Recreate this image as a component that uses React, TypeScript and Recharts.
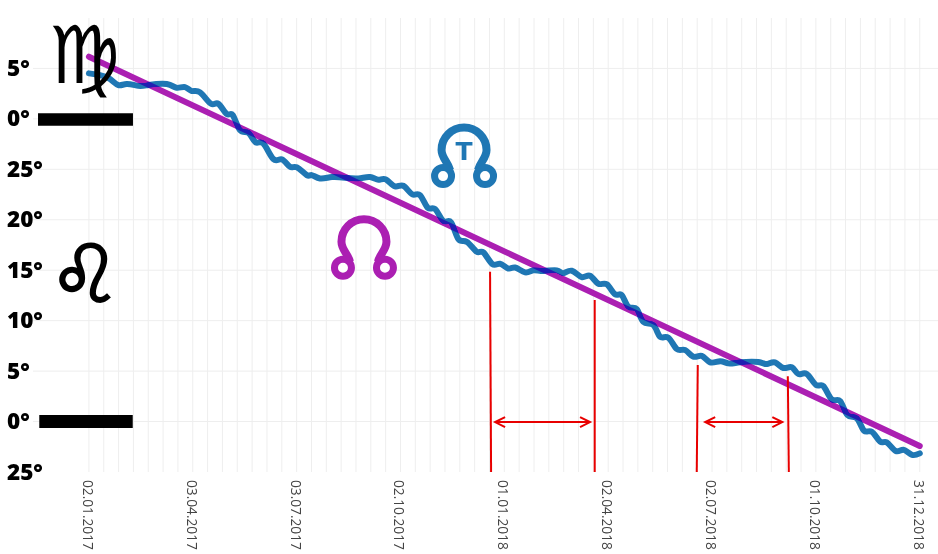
import React from "react";
import {
  LineChart,
  Line,
  XAxis,
  YAxis,
  CartesianGrid,
  ReferenceLine,
  ReferenceDot,
} from "recharts";

// days since 02.01.2017, one grid line every 13 days
const gridDays = Array.from({ length: 57 }, (_, i) => i * 13);
const dateLabels = [
  "02.01.2017",
  "03.04.2017",
  "03.07.2017",
  "02.10.2017",
  "01.01.2018",
  "02.04.2018",
  "02.07.2018",
  "01.10.2018",
  "31.12.2018",
];

// longitude as a running number, 120 = 0 Leo, 150 = 0 Virgo
const degreeTicks = [115, 120, 125, 130, 135, 140, 145, 150, 155];
const degreeLabels = ["25°", "0°", "5°", "10°", "15°", "20°", "25°", "0°", "5°"];

const dayDomain = [-49, 744];
const degreeDomain = [115, 160];

const trueNodeDays = [
  0, 9.7, 18.5, 25.8, 33.1, 43.3, 52.1, 68.2, 76.9, 84.2, 90.1, 97.4, 107, 113.4, 120.8, 126,
  132.4, 139.7, 146.2, 152.8, 161.6, 169, 176.2, 182.1, 190.9, 195.2, 202.5, 212.8, 224.4, 236.1,
  246.3, 253.6, 260.1, 268.2, 275.5, 283.4, 290.1, 296.9, 303.3, 310.6, 317.3, 323.7, 331.1, 339.8,
  345.6, 353.5, 360.2, 367.5, 373.4, 382.2, 389.4, 398.2, 409.9, 415.7, 423.1, 431.8, 439.1, 446.4,
  453.8, 461, 466.9, 472.7, 480, 485.8, 494.6, 500.4, 507.7, 515.1, 522.4, 529.6, 537, 544.3, 553,
  560.3, 570.6, 586.6, 594, 601.2, 608.5, 615.9, 621.7, 629, 637.2, 643.6, 650.9, 658.2, 664.6,
  672.8, 679.2, 686, 693.3, 699.1, 707, 713.7, 721, 728,
];
const trueNodeValues = [
  154.51, 154.34, 153.95, 153.35, 153.45, 153.28, 153.35, 153.45, 153.08, 153.15, 152.76, 152.63,
  151.5, 151.5, 150.48, 150.38, 148.89, 148.62, 147.67, 147.57, 146.02, 145.99, 145.25, 145.2,
  144.43, 144.43, 144.1, 144.23, 144.17, 144.1, 144.23, 143.97, 144.0, 143.31, 143.37, 142.52,
  142.45, 141.19, 141.06, 139.87, 139.75, 138.09, 137.82, 136.83, 136.77, 135.61, 135.65, 135.17,
  135.27, 134.79, 134.99, 134.92, 134.99, 134.69, 134.95, 134.32, 134.45, 133.66, 133.6, 132.61,
  132.54, 131.38, 131.15, 129.89, 129.57, 128.41, 128.31, 127.19, 127.09, 126.43, 126.5, 125.87,
  125.98, 125.77, 125.87, 125.9, 125.7, 125.87, 125.31, 125.38, 124.71, 124.71, 123.62, 123.52,
  122.2, 122.04, 120.65, 120.32, 119.09, 118.99, 118.0, 117.94, 117.08, 117.21, 116.71, 116.85,
];
const meanNodeDays = [0, 728];
const meanNodeValues = [156.16, 117.58];

const trueNodeData = trueNodeDays.map((day, i) => ({ day, value: trueNodeValues[i] }));
const meanNodeData = meanNodeDays.map((day, i) => ({ day, value: meanNodeValues[i] }));

const BLUE = "#1f77b4";
const PURPLE = "#ab1fb2";
const RED = "#e80000";

const DateTick = (props: any) => {
  const { x, y, payload } = props;
  if (payload.value % 91 !== 0) return null;
  const label = dateLabels[payload.value / 91];
  return (
    <text
      transform={`translate(${x - 6},${y}) rotate(90)`}
      fontFamily="Open Sans"
      fontSize={13.7}
      fill="#444"
    >
      {label}
    </text>
  );
};

const DegreeTick = (props: any) => {
  const { y, payload } = props;
  return (
    <text x={7} y={y + 7.5} fontFamily="Open Sans" fontWeight={800} fontSize={22.5} fill="#000">
      {degreeLabels[degreeTicks.indexOf(payload.value)]}
    </text>
  );
};

// the omega with two little rings, drawn around its own centre
const NodeGlyph = ({ cx, cy, color, letter }: any) => (
  <g>
    <path
      d={`M${cx - 14} ${cy - 6} C${cx - 16} ${cy - 14} ${cx - 22.5} ${cy - 18} ${cx - 22.5} ${cy - 26}
        A22.5 22.5 0 0 1 ${cx + 22.5} ${cy - 26}
        C${cx + 22.5} ${cy - 18} ${cx + 16} ${cy - 14} ${cx + 14} ${cy - 6}`}
      fill="none"
      stroke={color}
      strokeWidth={8}
    />
    <circle cx={cx - 21} cy={cy} r={8.5} fill="#fff" stroke={color} strokeWidth={7} />
    <circle cx={cx + 21} cy={cy} r={8.5} fill="#fff" stroke={color} strokeWidth={7} />
    {letter ? (
      <text
        x={cx}
        y={cy - 16}
        textAnchor="middle"
        fontFamily="DejaVu Sans"
        fontWeight={700}
        fontSize={25}
        fill={color}
      >
        {letter}
      </text>
    ) : null}
  </g>
);

const SignGlyph = ({ cx, cy, sign, size, weight }: any) => (
  <text
    x={cx}
    y={cy}
    textAnchor="middle"
    fontFamily="DejaVu Sans"
    fontSize={size}
    fill="#000"
    stroke="#000"
    strokeWidth={weight}
  >
    {sign}
  </text>
);

// double headed arrow, open heads
const Arrow = ({ x1, y1, x2, y2 }: any) => (
  <g fill="none" stroke={RED} strokeWidth={2}>
    <line x1={x1} y1={y1} x2={x2} y2={y2} />
    <polyline points={`${x1 + 10},${y1 - 5} ${x1},${y1} ${x1 + 10},${y1 + 5}`} />
    <polyline points={`${x2 - 10},${y2 - 5} ${x2},${y2} ${x2 - 10},${y2 + 5}`} />
  </g>
);

const App = () => {
  return (
    <div style={{ position: "absolute", left: 0, top: 0, width: 938, height: 554, background: "#fff" }}>
      <LineChart
        width={938}
        height={554}
        margin={{ top: 18, right: 0, left: 0, bottom: 0 }}
      >
        <CartesianGrid
          stroke="#eeeeee"
          strokeWidth={1}
          horizontalCoordinatesGenerator={({ offset }: any) =>
            degreeTicks
              .slice(1)
              .map(
                (t) =>
                  offset.top +
                  ((degreeDomain[1] - t) / (degreeDomain[1] - degreeDomain[0])) * offset.height
              )
          }
          verticalCoordinatesGenerator={({ offset }: any) =>
            gridDays.map(
              (d) =>
                offset.left + ((d - dayDomain[0]) / (dayDomain[1] - dayDomain[0])) * offset.width
            )
          }
        />
        <XAxis
          type="number"
          dataKey="day"
          domain={dayDomain}
          ticks={gridDays}
          interval={0}
          height={82}
          axisLine={false}
          tickLine={false}
          tick={<DateTick />}
          allowDataOverflow
        />
        <YAxis
          type="number"
          domain={degreeDomain}
          ticks={degreeTicks}
          interval={0}
          width={33}
          axisLine={false}
          tickLine={false}
          tick={<DegreeTick />}
          allowDataOverflow
        />

        <Line
          data={trueNodeData}
          dataKey="value"
          type="natural"
          stroke={BLUE}
          strokeWidth={6}
          strokeLinecap="round"
          dot={false}
          isAnimationActive={false}
        />
        <Line
          data={meanNodeData}
          dataKey="value"
          type="linear"
          stroke={PURPLE}
          strokeWidth={6}
          strokeLinecap="round"
          dot={false}
          style={{ mixBlendMode: "darken" }}
          isAnimationActive={false}
        />

        <ReferenceLine
          ifOverflow="visible"
          stroke="#000"
          strokeWidth={12.5}
          segment={[
            { x: -44.6, y: 149.93 },
            { x: 38.6, y: 149.93 },
          ]}
        />
        <ReferenceLine
          ifOverflow="visible"
          stroke="#000"
          strokeWidth={13}
          segment={[
            { x: -43.5, y: 120 },
            { x: 38.4, y: 120 },
          ]}
        />

        <ReferenceLine ifOverflow="visible" stroke={RED} strokeWidth={2} segment={[{ x: 351.5, y: 134.85 }, { x: 352.4, y: 115 }]} />
        <ReferenceLine ifOverflow="visible" stroke={RED} strokeWidth={2} segment={[{ x: 443.2, y: 132.05 }, { x: 443.2, y: 115 }]} />
        <ReferenceLine ifOverflow="visible" stroke={RED} strokeWidth={2} segment={[{ x: 533.5, y: 125.6 }, { x: 532.6, y: 115 }]} />
        <ReferenceLine ifOverflow="visible" stroke={RED} strokeWidth={2} segment={[{ x: 612.4, y: 124.5 }, { x: 613.3, y: 115 }]} />
        <ReferenceLine ifOverflow="visible" shape={<Arrow />} segment={[{ x: 355.9, y: 119.95 }, { x: 439.1, y: 119.95 }]} />
        <ReferenceLine ifOverflow="visible" shape={<Arrow />} segment={[{ x: 540, y: 119.95 }, { x: 607.6, y: 119.95 }]} />

        <ReferenceDot x={241} y={135.25} ifOverflow="visible" shape={<NodeGlyph color={PURPLE} />} />
        <ReferenceDot x={328.7} y={144.33} ifOverflow="visible" shape={<NodeGlyph color={BLUE} letter="T" />} />
        <ReferenceDot x={-4} y={153.55} ifOverflow="visible" shape={<SignGlyph sign="♍" size={80} weight={0} />} />
        <ReferenceDot x={-3.5} y={131.85} ifOverflow="visible" shape={<SignGlyph sign="♌" size={80} weight={2} />} />
      </LineChart>
    </div>
  );
};

export default App;
